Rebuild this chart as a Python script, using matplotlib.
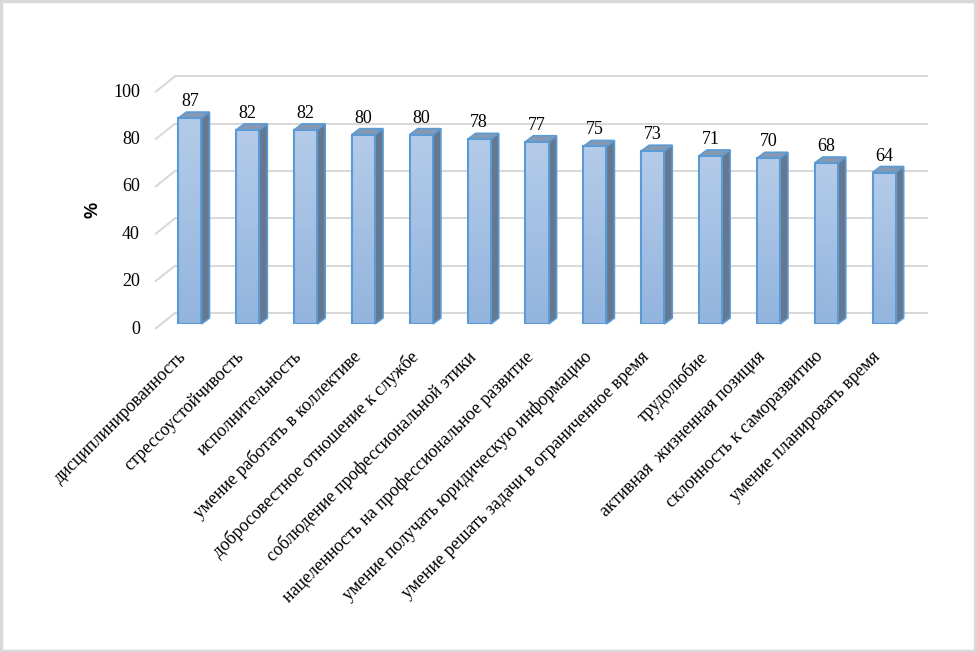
import matplotlib
matplotlib.use('Agg')
import matplotlib.pyplot as plt
import matplotlib.transforms as mtransforms
from matplotlib.patches import Rectangle, Polygon
import numpy as np

categories = ['дисциплинированность', 'стрессоустойчивость', 'исполнительность',
              'умение работать в коллективе', 'добросовестное отношение к службе',
              'соблюдение профессиональной этики', 'нацеленность на профессиональное развитие',
              'умение получать юридическую информацию', 'умение решать задачи в ограниченное время',
              'трудолюбие', 'активная  жизненная позиция', 'склонность к саморазвитию',
              'умение планировать время']
values = [87, 82, 82, 80, 80, 78, 77, 75, 73, 71, 70, 68, 64]
yticks = [0, 20, 40, 60, 80, 100]

W, H = 977, 652
fig = plt.figure(figsize=(W / 100, H / 100), dpi=100)
# axes = plane of the bars' front faces
ax_w, ax_h = 752, 236.7
ax = fig.add_axes([161 / W, 1 - 324 / H, ax_w / W, ax_h / H])
x0, x1 = -0.5, len(values) - 0.5
ax.set_xlim(x0, x1)
ax.set_ylim(0, 100)
ax.axis('off')
sx = ax_w / (x1 - x0)   # px per category
sy = ax_h / 100         # px per percent


def off(dx, dy):
    # shift in pixels (dpi 100 -> 1 px = 0.01 inch)
    return ax.transData + mtransforms.ScaledTranslation(dx / 100, dy / 100, fig.dpi_scale_trans)


back = (14, 11)
front = (-6, -5)
grid_c = '#d9d9d9'

# gridlines: back wall + left side diagonal
for v in yticks:
    ax.plot([x0, x1], [v, v], color=grid_c, lw=1.5, transform=off(*back), zorder=1, clip_on=False)
    xs = [x0 + front[0] / sx, x0 + back[0] / sx]
    ys = [v + front[1] / sy, v + back[1] / sy]
    ax.plot(xs, ys, color=grid_c, lw=1.5, zorder=2, clip_on=False, solid_capstyle='butt')
    ax.text(x0, v, str(v), transform=off(-21, -5), ha='right', va='center',
            fontsize=13, family='Liberation Serif')

# bars
bw = 0.40
dx, dy = 8 / sx, 6 / sy
c_bot = np.array(matplotlib.colors.to_rgb('#93b4de'))
c_top = np.array(matplotlib.colors.to_rgb('#b3cbe8'))
n_strips = 30
for i, v in enumerate(values):
    l, r = i - bw / 2, i + bw / 2
    side = Polygon([(r, 0), (r + dx, dy), (r + dx, v + dy), (r, v)], closed=True,
                   facecolor='#65788f', edgecolor='#5b9bd5', lw=1.2, zorder=3, clip_on=False)
    top = Polygon([(l, v), (r, v), (r + dx, v + dy), (l + dx, v + dy)], closed=True,
                  facecolor='#8799b2', edgecolor='#5b9bd5', lw=1.2, zorder=3, clip_on=False)
    ax.add_patch(side)
    ax.add_patch(top)
    # vertical gradient on the front face
    for k in range(n_strips):
        t = k / (n_strips - 1)
        ax.add_patch(Rectangle((l, v * k / n_strips), bw, v / n_strips * 1.05,
                               facecolor=c_bot + (c_top - c_bot) * t, edgecolor='none',
                               lw=0, zorder=4))
    ax.add_patch(Rectangle((l, 0), bw, v, facecolor='none', edgecolor='#5b9bd5', lw=1.5, zorder=5))
    ax.text(i, v, str(v), transform=off(0, 8), ha='center', va='bottom',
            fontsize=13, family='Liberation Serif')
    ax.text(i, 0, categories[i], transform=off(-12, -24), ha='right', va='top',
            rotation=45, rotation_mode='anchor', fontsize=13, family='Liberation Serif')

fig.text(93 / W, 1 - 210 / H, '%', rotation=90, ha='center', va='center',
         fontsize=13, fontweight='bold', family='Liberation Sans')

fig.patches.append(Rectangle((0.001, 0.002), 0.997, 0.996, transform=fig.transFigure,
                             fill=False, edgecolor='#d9d9d9', lw=2.5))

fig.savefig('out.png', dpi=100)
